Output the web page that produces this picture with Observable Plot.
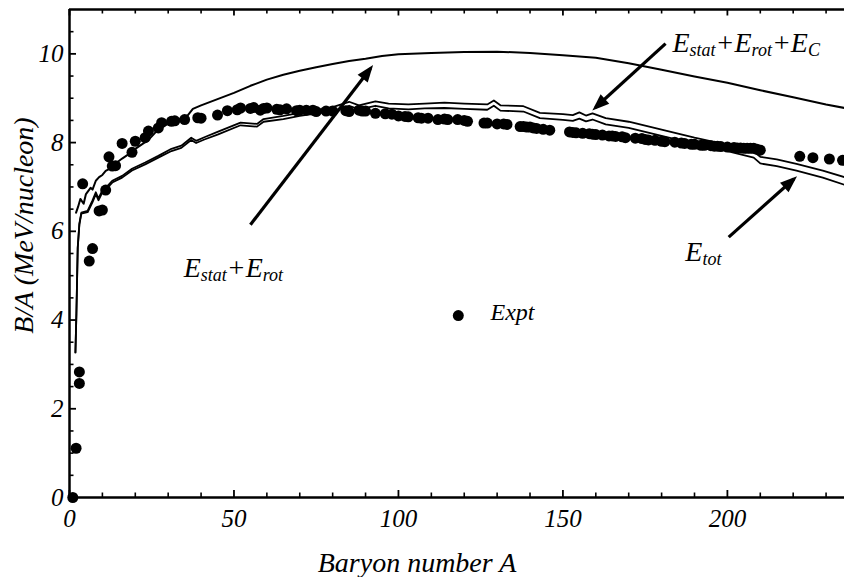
<!DOCTYPE html>
<html><head><meta charset="utf-8">
<script src="https://cdn.jsdelivr.net/npm/d3@7"></script>
<script src="https://cdn.jsdelivr.net/npm/@observablehq/plot@0.6"></script>
<style>body{margin:0;background:#fff}#chart{width:844px;height:577px}
#chart svg text{font-family:'Liberation Serif','Times New Roman',serif;font-style:italic}</style>
</head><body><div id="chart"></div>
<script>
// ---- data ----
const xDomain = [0, 235.6];
const yDomain = [0, 11];
const xMajor = [0, 50, 100, 150, 200];
const xMinor = [10, 20, 30, 40, 60, 70, 80, 90, 110, 120, 130, 140, 160, 170, 180, 190, 210, 220, 230];
const yMajor = [0, 2, 4, 6, 8, 10];
const yMinor = [0.5, 1, 1.5, 2.5, 3, 3.5, 4.5, 5, 5.5, 6.5, 7, 7.5, 8.5, 9, 9.5, 10.5];

const exptA = [1,2,3,3,4,6,7,9,10,11,12,13,14,16,19,20,23,24,27,28,31,32,35,39,40,45,48,51,52,55,56,58,59,60,63,64,66,69,70,72,74,75,78,80,84,85,88,89,90,93,96,98,100,102,103,106,107,109,112,114,115,118,120,121,126,127,130,132,133,137,138,139,140,141,142,144,146,152,153,154,156,158,159,160,162,164,165,166,168,169,172,174,175,176,178,180,181,184,186,187,189,190,192,193,195,196,197,198,200,202,203,204,205,206,207,208,209,210,222,226,231,235];
const exptB = [0,1.11,2.83,2.57,7.07,5.33,5.61,6.46,6.48,6.93,7.68,7.47,7.48,7.98,7.78,8.03,8.11,8.26,8.33,8.45,8.48,8.49,8.52,8.56,8.55,8.62,8.72,8.74,8.78,8.77,8.79,8.73,8.77,8.78,8.75,8.74,8.76,8.72,8.73,8.73,8.73,8.70,8.71,8.71,8.72,8.70,8.73,8.71,8.71,8.66,8.65,8.64,8.60,8.59,8.58,8.56,8.55,8.55,8.52,8.53,8.52,8.52,8.50,8.48,8.44,8.44,8.42,8.42,8.41,8.36,8.36,8.35,8.35,8.33,8.32,8.30,8.28,8.24,8.23,8.22,8.21,8.20,8.19,8.18,8.17,8.15,8.15,8.14,8.13,8.11,8.10,8.09,8.07,8.06,8.05,8.03,8.02,8.01,7.99,7.98,7.96,7.96,7.94,7.94,7.93,7.92,7.92,7.91,7.90,7.89,7.88,7.88,7.87,7.87,7.87,7.87,7.85,7.83,7.69,7.66,7.63,7.60];

// E_stat + E_rot
const rotA = [2,2.6,3.3,4.3,5,6.4,7,8,9,10,11,12,14,16,18,20,22,24,26,28,30,32,34,36,37.5,40,45,50,55,60,65,70,75,80,85,90,95,100,110,120,130,140,150,160,170,180,190,200,210,220,230,235.6];
const rotB = [6.42,6.55,6.73,6.62,6.84,6.98,6.94,7.14,7.22,7.27,7.36,7.40,7.53,7.64,7.74,7.86,7.96,8.06,8.22,8.36,8.42,8.50,8.54,8.62,8.76,8.84,8.98,9.12,9.28,9.42,9.53,9.62,9.70,9.77,9.84,9.89,9.95,9.99,10.02,10.04,10.05,10.02,9.97,9.91,9.79,9.64,9.49,9.35,9.18,9.02,8.86,8.78];

// E_stat + E_rot + E_C  and  E_tot
const pairA = [1.8,2.1,2.5,3.0,3.6,5.5,7,8,8.8,10,11,13,16,19,23,27,31,34,37,38.5,41,45,52,57,59,65,70,80,85,88,93,97,103,108,114,120,127,129,131,138,143,150,153,155,157,159,163,170,180,190,200,208,210,215,221,229,235.6];
const coulB = [3.27,4.15,5.63,6.17,6.42,6.46,6.70,6.88,6.74,6.92,6.98,7.14,7.25,7.41,7.55,7.70,7.86,7.93,8.11,8.04,8.12,8.24,8.45,8.42,8.53,8.60,8.67,8.80,8.92,8.84,8.93,8.88,8.86,8.88,8.90,8.88,8.86,8.95,8.84,8.82,8.67,8.64,8.62,8.68,8.61,8.66,8.55,8.47,8.29,8.11,7.95,7.80,7.68,7.62,7.52,7.37,7.22];
const totB  = [3.27,4.15,5.63,6.15,6.40,6.43,6.66,6.84,6.70,6.88,6.94,7.10,7.21,7.37,7.51,7.66,7.81,7.88,8.06,7.99,8.07,8.18,8.39,8.36,8.47,8.53,8.60,8.71,8.83,8.75,8.83,8.77,8.75,8.77,8.78,8.76,8.74,8.83,8.72,8.70,8.55,8.51,8.49,8.54,8.48,8.52,8.41,8.33,8.15,7.97,7.81,7.66,7.53,7.47,7.37,7.21,7.05];

// annotations
const arrowFromA = [55.0, 181.2, 200.4];
const arrowFromB = [6.15, 10.23, 5.87];
const arrowToA   = [91.5, 159.9, 220.2];
const arrowToB   = [9.67, 8.79, 7.18];
const labelA = [34.7, 183.3, 187.2];
const labelB = [4.98, 10.05, 5.34];
const labelText = ["E_{stat}+E_{rot}", "E_{stat}+E_{rot}+E_{C}", "E_{tot}"];
const legendDotA = [118.2];
const legendDotB = [4.10];
const legendTextA = [128.0];
const legendTextB = [3.99];
const legendText = ["Expt"];

// ---- tables ----
const expt = exptA.map((a, i) => ({A: a, B: exptB[i]}));
const rot = rotA.map((a, i) => ({A: a, B: rotB[i]}));
const coul = pairA.map((a, i) => ({A: a, B: coulB[i]}));
const tot = pairA.map((a, i) => ({A: a, B: totB[i]}));
const arrows = arrowFromA.map((a, i) => ({x1: a, y1: arrowFromB[i], x2: arrowToA[i], y2: arrowToB[i]}));
const labels = labelA.map((a, i) => ({A: a, B: labelB[i], t: labelText[i]}));
const legDot = legendDotA.map((a, i) => ({A: a, B: legendDotB[i]}));
const legTxt = legendTextA.map((a, i) => ({A: a, B: legendTextB[i], t: legendText[i]}));

const W = 844, H = 577, mL = 69, mR = 0, mT = 9, mB = 80;
const FW = W - mL - mR, FH = H - mT - mB;

const svg = Plot.plot({
  width: W, height: H,
  marginLeft: mL, marginRight: mR, marginTop: mT, marginBottom: mB,
  x: {domain: xDomain},
  y: {domain: yDomain},
  style: {fontFamily: "'Liberation Serif','Times New Roman',serif", fontStyle: "italic", background: "white", color: "black"},
  marks: [
    // frame
    Plot.ruleX([xDomain[0]], {stroke: "black", strokeWidth: 2.5}),
    Plot.ruleY(yDomain, {stroke: "black", strokeWidth: 2.5}),
    // inward ticks
    Plot.ruleY(yMinor, {stroke: "black", strokeWidth: 1.6, insetRight: FW - 4.5}),
    Plot.ruleY(yMajor, {stroke: "black", strokeWidth: 1.8, insetRight: FW - 7}),
    Plot.ruleX(xMinor, {stroke: "black", strokeWidth: 1.6, insetTop: FH - 4.5}),
    Plot.ruleX(xMajor, {stroke: "black", strokeWidth: 1.8, insetTop: FH - 7}),
    Plot.ruleX(xMinor, {stroke: "black", strokeWidth: 1.6, insetBottom: FH - 4.5}),
    Plot.ruleX(xMajor, {stroke: "black", strokeWidth: 1.8, insetBottom: FH - 6.5}),
    // tick labels
    Plot.axisX(xMajor, {tickSize: 0, tickPadding: 12, fontSize: 25, label: null}),
    Plot.axisY(yMajor, {tickSize: 0, tickPadding: 6, fontSize: 25, label: null}),
    // axis titles
    Plot.text(["Baryon number A"], {text: d => d, frameAnchor: "bottom", dx: -40, dy: 74, lineAnchor: "bottom", textAnchor: "middle", fontSize: 28}),
    Plot.text(["B/A (MeV/nucleon)"], {text: d => d, frameAnchor: "left", rotate: -90, dx: -37, dy: -28, lineAnchor: "bottom", textAnchor: "middle", fontSize: 28}),
    // curves
    Plot.line(rot, {x: "A", y: "B", stroke: "black", strokeWidth: 2}),
    Plot.line(coul, {x: "A", y: "B", stroke: "black", strokeWidth: 1.8}),
    Plot.line(tot, {x: "A", y: "B", stroke: "black", strokeWidth: 1.8}),
    // experiment
    Plot.dot(expt, {x: "A", y: "B", r: 5.5, fill: "black"}),
    // arrows & labels
    Plot.link(arrows, {x1: "x1", y1: "y1", x2: "x2", y2: "y2", stroke: "black", strokeWidth: 3.2, markerEnd: "arrow"}),
    Plot.text(labels, {x: "A", y: "B", text: "t", textAnchor: "start", lineAnchor: "bottom", fontSize: 28}),
    // legend
    Plot.dot(legDot, {x: "A", y: "B", r: 5.5, fill: "black"}),
    Plot.text(legTxt, {x: "A", y: "B", text: "t", textAnchor: "start", lineAnchor: "bottom", fontSize: 24})
  ]
});

// filled arrow heads
svg.querySelectorAll("marker").forEach(m => {
  m.setAttribute("fill", "black");
  m.setAttribute("stroke", "none");
  m.setAttribute("overflow", "visible");
  const p = m.querySelector("path");
  if (p) { p.setAttribute("d", "M-6,-3L2,0L-6,3Z"); p.setAttribute("fill", "black"); p.setAttribute("stroke", "none"); }
});

// subscripts
const NS = "http://www.w3.org/2000/svg";
svg.querySelectorAll("text").forEach(el => {
  const str = el.textContent;
  if (!str.includes("_{")) return;
  const parts = str.split(/(_\{[^}]*\})/).filter(s => s);
  while (el.firstChild) el.removeChild(el.firstChild);
  let sub = false;
  for (const p of parts) {
    const isSub = p.startsWith("_{");
    const ts = document.createElementNS(NS, "tspan");
    ts.textContent = isSub ? p.slice(2, -1) : p;
    ts.setAttribute("font-size", isSub ? 18 : 28);
    if (isSub !== sub) ts.setAttribute("dy", isSub ? 4 : -4);
    sub = isSub;
    el.appendChild(ts);
  }
});

document.getElementById("chart").appendChild(svg);
</script>
</body></html>
